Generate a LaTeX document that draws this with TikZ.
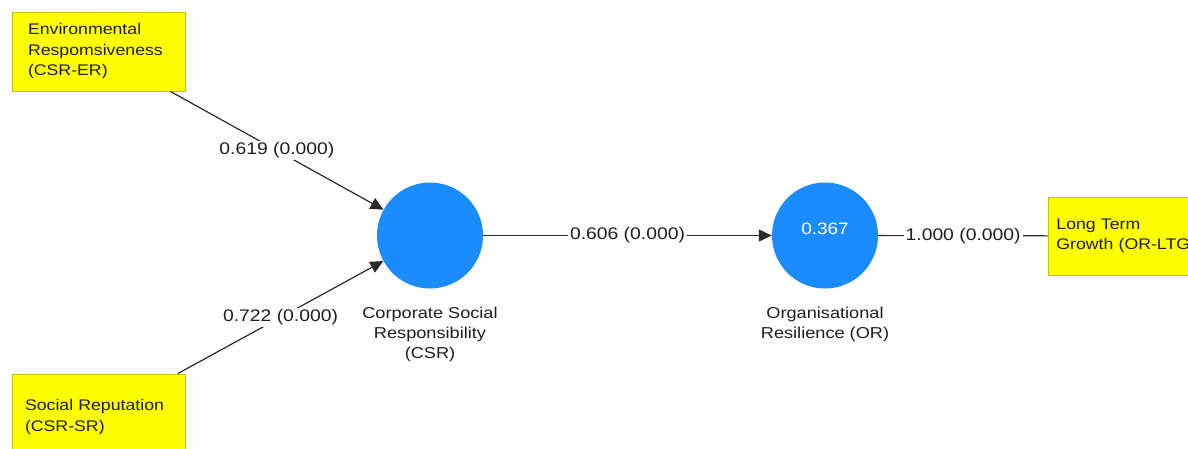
\documentclass[tikz,border=0pt]{standalone}
\usepackage{fontspec}
\setmainfont{Liberation Sans}[FakeStretch=1.15]
\usetikzlibrary{arrows.meta}
\definecolor{boxfill}{HTML}{FFFF00}
\definecolor{boxline}{HTML}{C2C200}
\definecolor{latent}{HTML}{1A8CFF}
\definecolor{wire}{HTML}{2A2A2A}
\definecolor{ink}{HTML}{1E1E1E}
\tikzset{
  indicator/.style={draw=boxline, fill=boxfill, line width=0.8pt, rectangle,
    align=left, text=ink, font=\fontsize{15.4}{20.5}\selectfont,
    minimum height=79pt},
  construct/.style={circle, fill=latent, draw=none, minimum size=106pt, inner sep=0pt},
  caption/.style={align=center, text=ink, font=\fontsize{15.8}{20}\selectfont},
  coef/.style={fill=white, text=ink, inner sep=2pt, font=\fontsize{16.8}{18}\selectfont},
  path/.style={draw=wire, line width=1.2pt},
  arrowpath/.style={path, -{Triangle[length=13pt,width=12pt]}},
}
\begin{document}
\begin{tikzpicture}[x=1pt,y=-1pt]
\useasboundingbox (0,0) rectangle (1188,448);
\clip (0,0) rectangle (1188,448);

% indicator blocks
\node[indicator, text width=141pt, inner xsep=16pt, inner ysep=0pt] (er) at (98.5,51.5)
  {Environmental\\Respomsiveness\\(CSR-ER)};
\node[indicator, text width=147pt, inner xsep=13pt, inner ysep=0pt, minimum height=86pt] (sr) at (98.5,417)
  {Social Reputation\\(CSR-SR)};
\node[indicator, text width=180pt, inner xsep=8pt, inner ysep=0pt, minimum height=78pt, anchor=west] (ltg) at (1048,236)
  {Long Term\\Growth (OR-LTG)};

% constructs
\node[construct] (csr) at (430,235.5) {};
\node[construct] (or) at (825,235.5) {};
\node[text=white, font=\fontsize{16.5}{18}\selectfont] (r2) at (825,229) {0.367};

% construct captions
\node[caption, anchor=north] (csrcap) at (430,304) {Corporate Social\\Responsibility\\(CSR)};
\node[caption, anchor=north] (orcap) at (825,304) {Organisational\\Resilience (OR)};

% structural paths with coefficients
\draw[arrowpath] (er) -- node[coef] (c1) {0.619 (0.000)} (csr);
\draw[arrowpath] (sr) -- node[coef] (c2) {0.722 (0.000)} (csr);
\draw[arrowpath] (csr) -- node[coef] (c3) {0.606 (0.000)} (or);
\draw[path] (or) -- node[coef] (c4) {1.000 (0.000)} (ltg);
\end{tikzpicture}
\end{document}
